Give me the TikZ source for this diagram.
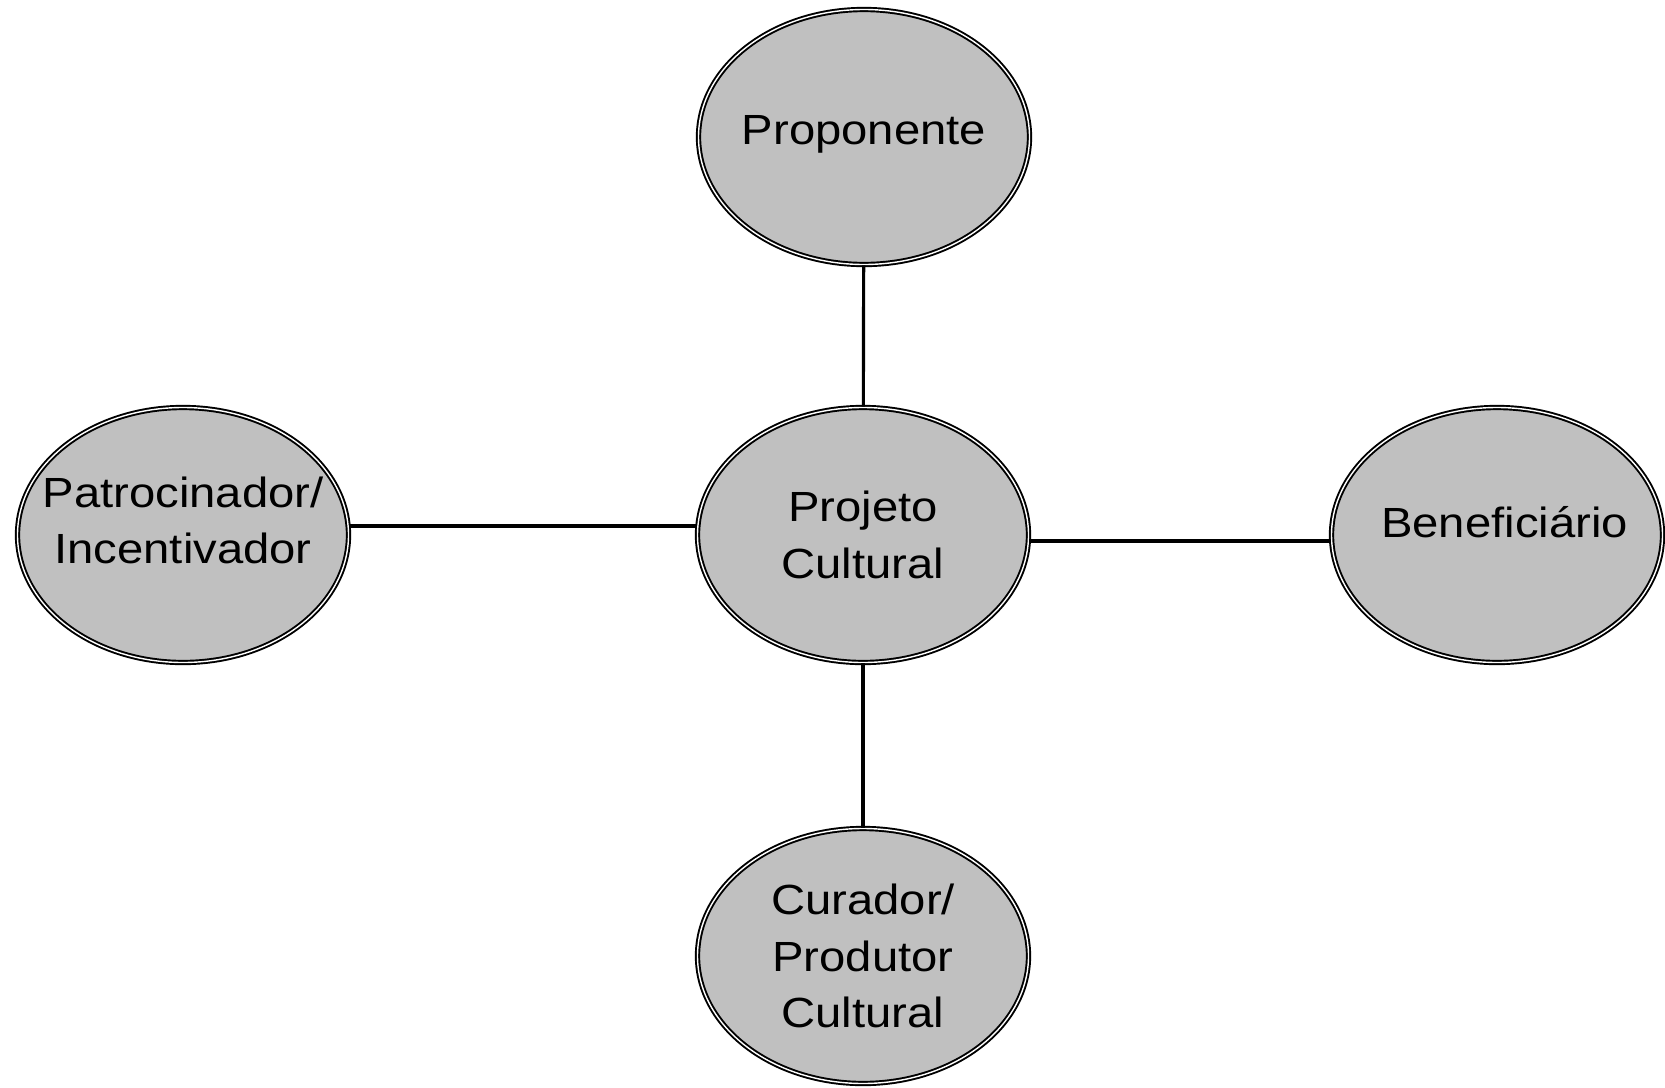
\documentclass[tikz,border=0pt]{standalone}
\usepackage{fontspec}
\setmainfont{Liberation Sans}[FakeStretch=1.12]
\usepackage{xcolor}
\usepackage{tikz}
\usetikzlibrary{shapes.geometric,calc}
\definecolor{BubbleGray}{HTML}{C0C0C0}

\begin{document}
\begin{tikzpicture}[
      bubble/.style={ellipse, draw=black, double=white, double distance=0.8pt,
                     line width=1.1pt, fill=BubbleGray, minimum width=6.62cm,
                     minimum height=5.1cm, inner ysep=0pt, inner xsep=-1cm,
                     align=center, font=\fontsize{24}{32}\selectfont},
      link/.style={line width=1.8pt}
    ]
      \useasboundingbox (0,0) rectangle (33.3,-21.76);
      \node[bubble, text depth=0.3cm] (prop) at (17.28,-2.74) {Proponente};
      \node[bubble] (proj) at (17.26,-10.7) {Projeto\\Cultural\hspace{0.25cm}};
      \node[bubble, text depth=0.6cm] (patro) at (3.66,-10.7) {Patrocinador/\\Incentivador};
      \node[bubble, text depth=0.52cm] (benef) at (29.94,-10.7) {\hspace{0.3cm}Beneficiário};
      \node[bubble] (cur) at (17.26,-19.12) {Curador/\\Produtor\\Cultural};
      \draw[link] (prop)--(proj);
      \draw[link] (proj)--(cur);
      \draw[link] ([yshift=1.8mm]patro.east)--([yshift=1.8mm]proj.west);
      \draw[link] ([yshift=-1.2mm]proj.east)--([yshift=-1.2mm]benef.west);
    \end{tikzpicture}
\end{document}
